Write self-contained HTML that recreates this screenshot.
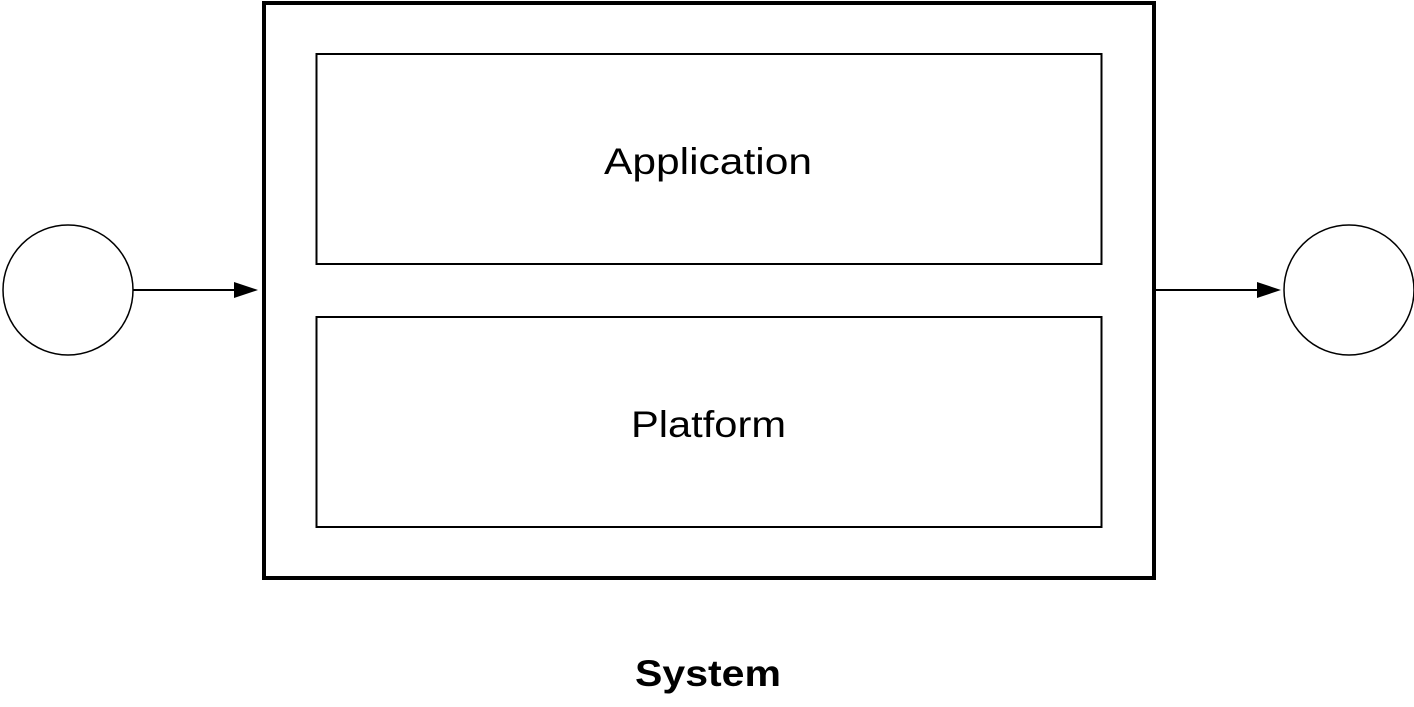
<!DOCTYPE html>
<html><head><meta charset="utf-8"><style>
html,body{margin:0;padding:0;background:#fff;}
svg{display:block;}
text{font-family:"Liberation Sans",sans-serif;}
</style></head><body>
<svg width="1414" height="707" viewBox="0 0 1414 707">
<rect x="264" y="3" width="890" height="575" fill="none" stroke="#000" stroke-width="4"/>
<rect x="316.5" y="54" width="785" height="210" fill="none" stroke="#000" stroke-width="2"/>
<rect x="316.5" y="317" width="785" height="210" fill="none" stroke="#000" stroke-width="2"/>
<circle cx="68" cy="290" r="65" fill="none" stroke="#000" stroke-width="1.5"/>
<circle cx="1349" cy="290" r="65" fill="none" stroke="#000" stroke-width="1.5"/>
<line x1="133" y1="290" x2="236" y2="290" stroke="#000" stroke-width="2"/>
<polygon points="258,290 234,282 234,298" fill="#000"/>
<line x1="1156" y1="290" x2="1258" y2="290" stroke="#000" stroke-width="2"/>
<polygon points="1281,290 1257,282 1257,298" fill="#000"/>
<text x="604" y="174" font-size="37" textLength="208" lengthAdjust="spacingAndGlyphs">Application</text>
<text x="631" y="437" font-size="37" textLength="155" lengthAdjust="spacingAndGlyphs">Platform</text>
<text x="635" y="686" font-size="37" font-weight="bold" textLength="146" lengthAdjust="spacingAndGlyphs">System</text>
</svg>
</body></html>
